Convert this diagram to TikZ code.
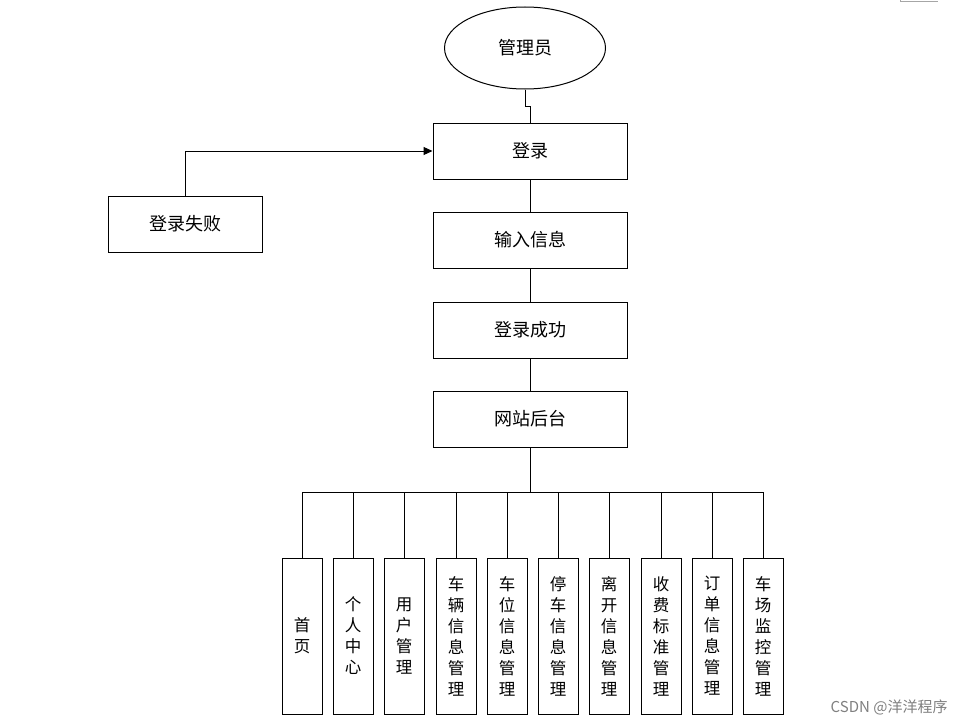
\documentclass[tikz,border=0pt]{standalone}
\usepackage{fontspec}
\setmainfont{Noto Sans CJK SC}
\usetikzlibrary{shapes.geometric,arrows.meta}
\begin{document}
\begin{tikzpicture}[x=1pt,y=-1pt,
  line width=1pt,
  hbox/.style={draw, minimum width=194pt, minimum height=56pt, inner sep=0pt, font=\fontsize{18}{21}\selectfont},
  vbox/.style={draw, minimum width=40pt, minimum height=156pt, inner sep=0pt, align=center, font=\fontsize{16.5}{21}\selectfont},
  link/.style={draw, line width=1pt},
  mark tip/.style={-{Triangle[length=9pt,width=8pt]}}]
\useasboundingbox (0,0) rectangle (963,725);
\fill[white] (0,0) rectangle (963,725);
\draw[gray!70, line width=0.8pt] (900,0) -- (900,1.5) -- (938,1.5);

\node[draw, ellipse, minimum width=161pt, minimum height=82pt, inner sep=0pt, font=\fontsize{18}{21}\selectfont] (admin) at (525,48) {管理员};
\node[hbox] (login) at (530,151) {登录};
\node[hbox] (input) at (530,240) {输入信息};
\node[hbox] (ok) at (530,330) {登录成功};
\node[hbox] (site) at (530,419) {网站后台};
\node[draw, minimum width=154pt, minimum height=56pt, inner sep=0pt, font=\fontsize{18}{21}\selectfont] (fail) at (185,224) {登录失败};

\coordinate (jog) at (530,106);
\draw[link] (admin.south) |- (jog) -- (login.north);
\draw[link, mark tip] (fail.north) |- (login.west);
\draw[link] (login) -- (input);
\draw[link] (input) -- (ok);
\draw[link] (ok) -- (site);

\node[vbox] (m1) at (302,636) {首\\页};
\node[vbox] (m2) at (353,636) {个\\人\\中\\心};
\node[vbox] (m3) at (404,636) {用\\户\\管\\理};
\node[vbox] (m4) at (456,636) {车\\辆\\信\\息\\管\\理};
\node[vbox] (m5) at (507,636) {车\\位\\信\\息\\管\\理};
\node[vbox] (m6) at (558,636) {停\\车\\信\\息\\管\\理};
\node[vbox] (m7) at (609,636) {离\\开\\信\\息\\管\\理};
\node[vbox] (m8) at (661,636) {收\\费\\标\\准\\管\\理};
\node[vbox] (m9) at (712,636) {订\\单\\信\\息\\管\\理};
\node[vbox] (m10) at (763,636) {车\\场\\监\\控\\管\\理};

\coordinate (bus) at (530,492);
\draw[link] (site.south) -- (bus);
\foreach \i in {1,...,10} {\draw[link] (bus) -| (m\i.north);}

\node[text=gray, font=\fontsize{15}{18}\selectfont, anchor=east, inner sep=0pt] (wm) at (948,707) {CSDN @洋洋程序};
\end{tikzpicture}
\end{document}
